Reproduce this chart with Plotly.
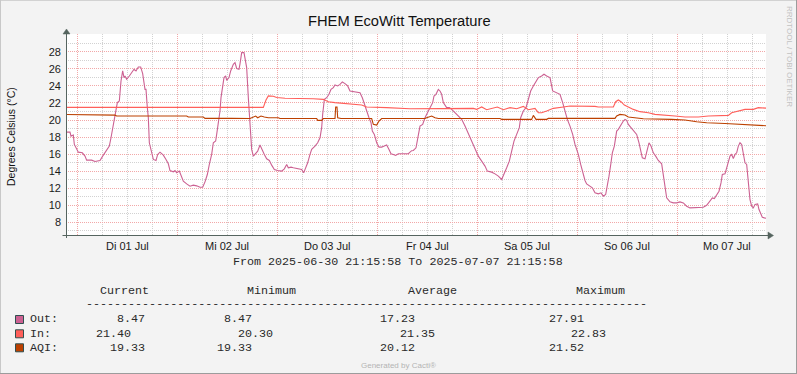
import plotly.graph_objects as go
import pandas as pd

# ---------------- data ----------------
START = "2025-06-30 21:15:58"
END = "2025-07-07 21:15:58"

# hours since START and degrees Celsius
out_hours = [0, 0.96, 1.2, 1.76, 2.0, 2.72, 2.96, 3.92, 4.56, 4.96,
             6.16, 6.96, 8.16, 8.8, 9.36, 9.76, 10.4, 10.8, 11.2, 11.52,
             12.0, 12.32, 12.8, 13.2, 13.6, 13.92, 14.16, 14.56, 15.2, 15.76,
             16.32, 16.8, 17.36, 17.92, 18.4, 18.96, 19.2, 19.52, 19.76, 20.0,
             20.56, 20.96, 21.6, 22.0, 22.56, 23.36, 24.0, 24.56, 24.96, 25.76,
             26.16, 26.56, 27.2, 27.76, 28.16, 28.96, 29.76, 30.56, 31.36, 32.16,
             32.8, 33.36, 33.92, 34.4, 34.96, 35.36, 35.92, 36.16, 36.56, 36.96,
             37.2, 37.52, 37.92, 38.32, 38.56, 39.12, 39.52, 40.16, 40.56, 40.96,
             41.52, 41.76, 42.16, 42.72, 43.12, 43.36, 43.76, 44.16, 44.56, 44.96,
             45.52, 46.0, 46.56, 47.12, 47.6, 48.16, 48.8, 49.36, 50.0, 50.8,
             51.76, 52.4, 52.96, 53.36, 54.0, 54.56, 55.36, 56.16, 56.56, 57.04,
             57.52, 58.0, 58.56, 58.96, 59.76, 60.4, 60.96, 61.36, 61.6, 62.0,
             62.56, 63.12, 63.6, 64.16, 64.56, 65.2, 65.76, 66.32, 66.96, 67.6,
             68.16, 68.96, 69.76, 70.56, 71.12, 71.6, 72.16, 72.72, 73.2, 73.52,
             74.0, 74.56, 75.12, 75.76, 76.4, 76.96, 77.52, 78.0, 78.56, 79.12,
             79.76, 80.56, 81.36, 82.16, 82.96, 83.36, 84.0, 84.32, 84.56, 84.96,
             85.6, 86.16, 86.96, 87.52, 88.0, 88.32, 88.8, 89.36, 89.76, 90.16,
             90.56, 91.36, 92.0, 92.56, 93.36, 94.16, 94.96, 95.76, 96.56, 97.36,
             98.16, 98.96, 99.76, 100.56, 101.12, 102.16, 102.96, 103.76, 104.56, 105.12,
             105.76, 106.4, 106.96, 107.52, 108.16, 108.8, 109.12, 109.76, 110.4, 110.96,
             111.52, 112.16, 112.8, 113.36, 114.16, 114.72, 115.36, 116.16, 116.8, 117.76,
             118.56, 119.2, 119.76, 120.32, 120.96, 121.6, 122.16, 122.96, 123.52, 124.16,
             124.56, 124.96, 125.76, 126.32, 126.96, 127.76, 128.4, 128.96, 129.52, 130.0,
             130.32, 130.8, 131.12, 131.6, 132.16, 132.56, 132.96, 133.36, 133.76, 134.16,
             134.56, 134.96, 135.6, 136.16, 136.96, 137.52, 138.0, 138.32, 138.96, 139.36,
             139.92, 140.4, 140.96, 141.52, 142.16, 142.96, 143.36, 143.76, 144.16, 144.96,
             145.76, 146.56, 147.36, 148.16, 148.96, 149.76, 150.96, 152.16, 152.96, 153.76,
             154.56, 155.12, 155.6, 156.16, 156.72, 157.2, 157.52, 158.16, 158.56, 158.96,
             159.36, 159.76, 160.16, 160.56, 160.96, 161.36, 161.76, 162.16, 162.56, 162.96,
             163.36, 163.76, 164.16, 164.56, 164.96, 165.36, 166.0, 166.32, 166.72, 167.12,
             167.6, 168.0]
out_values = [18.58, 18.58, 18.11, 18.23, 17.13, 16.55, 16.23, 16.15, 15.76, 15.29,
              15.29, 15.13, 15.25, 15.76, 16.15, 16.55, 16.94, 17.92, 19.1, 19.68,
              21.06, 22.04, 22.23, 24.58, 25.76, 24.98, 25.17, 24.78, 25.17, 25.57,
              25.96, 25.76, 26.23, 26.23, 25.45, 23.6, 23.6, 21.45, 20.27, 17.33,
              16.15, 15.37, 15.25, 15.96, 16.23, 15.88, 15.37, 14.86, 14.07, 13.92,
              14.07, 13.8, 14.0, 13.21, 12.82, 12.5, 12.23, 12.35, 12.27, 12.1,
              12.1, 12.74, 13.6, 14.78, 15.96, 17.33, 17.53, 18.31, 19.68, 21.06,
              22.63, 24.0, 24.98, 25.17, 24.66, 24.98, 25.76, 26.55, 26.74, 26.05,
              25.96, 26.6, 27.92, 27.91, 26.94, 26.15, 22.62, 19.49, 16.55, 15.76,
              16.04, 16.35, 17.06, 16.35, 15.96, 15.45, 15.25, 14.7, 14.19, 14.07,
              14.0, 14.27, 14.78, 14.39, 14.47, 14.39, 14.31, 14.31, 14.19, 13.8,
              14.39, 14.98, 15.96, 16.55, 16.94, 17.33, 17.92, 19.1, 20.66, 22.43,
              22.62, 23.02, 23.6, 23.8, 24.11, 24.0, 24.19, 24.47, 24.27, 24.0,
              23.41, 23.33, 23.21, 23.21, 22.62, 21.84, 21.06, 20.27, 19.68, 18.7,
              18.31, 17.33, 16.82, 16.82, 16.94, 17.06, 16.55, 16.04, 15.96, 15.84,
              16.04, 16.04, 16.04, 16.04, 16.4, 16.43, 16.74, 17.53, 18.31, 19.29,
              19.49, 20.27, 21.06, 21.53, 22.04, 22.82, 23.02, 23.6, 23.41, 23.02,
              22.04, 21.45, 21.45, 21.25, 20.86, 20.59, 20.08, 19.29, 18.39, 17.53,
              16.55, 15.76, 15.17, 14.59, 14.0, 13.88, 13.68, 13.41, 13.02, 13.6,
              14.39, 15.17, 16.35, 17.53, 18.31, 19.1, 20.27, 21.06, 21.45, 22.62,
              23.41, 24.0, 24.58, 24.98, 25.17, 25.37, 25.17, 24.98, 23.41, 23.21,
              23.02, 22.04, 21.06, 20.08, 19.29, 18.31, 17.13, 15.96, 14.78, 13.6,
              12.9, 12.5, 12.23, 12.04, 11.45, 11.33, 11.45, 11.06, 11.25, 12.43,
              13.41, 14.98, 16.15, 16.94, 18.7, 18.9, 19.29, 19.49, 19.88, 20.08,
              19.96, 19.49, 19.1, 18.7, 18.31, 17.33, 16.35, 15.57, 15.45, 16.35,
              17.33, 16.94, 16.15, 15.76, 15.25, 14.86, 13.6, 12.04, 10.86, 10.39,
              10.27, 10.27, 10.39, 10.27, 9.88, 9.68, 9.68, 9.68, 9.76, 9.99,
              10.47, 10.86, 10.78, 11.25, 11.64, 12.62, 13.6, 13.68, 14.39, 15.17,
              15.76, 15.96, 15.49, 15.96, 16.15, 16.94, 17.33, 17.13, 16.15, 14.98,
              14.78, 12.82, 10.66, 9.88, 9.68, 10.07, 10.15, 9.49, 8.9, 8.59,
              8.51, 8.47]

in_hours = [0, 47.36, 48.0, 48.56, 49.76, 50.56, 52.56, 57.76, 59.36, 61.76,
            62.96, 64.56, 66.96, 70.96, 72.16, 76.56, 76.96, 82.56, 97.76, 98.56,
            99.76, 100.96, 102.56, 103.52, 104.96, 106.56, 108.16, 109.76, 110.96, 112.56,
            113.36, 114.16, 115.36, 116.96, 119.36, 120.96, 126.96, 127.76, 131.36, 131.92,
            132.56, 133.2, 134.0, 134.96, 136.16, 137.76, 139.76, 141.36, 143.76, 146.16,
            148.56, 151.76, 154.16, 156.56, 158.96, 159.76, 161.36, 162.96, 164.96, 166.16,
            168.0]
in_values = [21.48, 21.48, 22.35, 22.83, 22.8, 22.65, 22.55, 22.55, 22.5, 22.43,
             22.15, 22.04, 21.92, 21.76, 21.53, 21.53, 21.45, 21.33, 21.37, 21.25,
             21.53, 21.21, 21.37, 21.53, 21.21, 21.45, 21.33, 21.6, 21.21, 21.37,
             20.86, 20.86, 21.06, 21.37, 21.53, 21.64, 21.6, 21.53, 21.53, 22.15,
             22.35, 22.15, 21.76, 21.53, 21.25, 20.98, 20.86, 20.66, 20.59, 20.47,
             20.35, 20.35, 20.47, 20.47, 20.55, 20.86, 21.06, 21.25, 21.25, 21.45,
             21.40]

aqi_hours = [0, 2.72, 3.2, 11.76, 12.16, 28.96, 29.36, 32.96, 33.36, 39.0,
             39.36, 39.7, 44.16, 44.96, 45.52, 46.0, 46.8, 47.6, 48.56, 50.96,
             51.36, 60.16, 60.4, 61.36, 61.76, 64.56, 64.72, 65.04, 65.2, 66.0,
             73.36, 73.76, 74.56, 75.12, 75.76, 86.16, 86.56, 87.76, 88.56, 89.36,
             104.16, 104.56, 111.76, 112.16, 112.8, 115.36, 115.76, 131.76, 132.16, 132.96,
             134.16, 134.96, 136.56, 138.56, 145.36, 148.56, 151.36, 153.76, 158.16, 162.16,
             164.56, 168.0]
aqi_values = [20.65, 20.65, 20.57, 20.57, 20.47, 20.47, 20.35, 20.35, 20.19, 20.19,
              20.27, 20.19, 20.17, 20.35, 20.47, 20.27, 20.47, 20.35, 20.27, 20.27,
              20.17, 20.17, 19.96, 19.96, 20.17, 20.17, 21.52, 21.52, 20.27, 20.17,
              20.17, 19.49, 19.41, 19.88, 20.17, 20.17, 20.27, 20.47, 20.27, 20.17,
              20.17, 20.08, 20.08, 20.55, 20.08, 20.08, 20.19, 20.19, 20.47, 20.66,
              20.59, 20.35, 20.27, 20.15, 20.08, 20.0, 19.8, 19.68, 19.6, 19.49,
              19.41, 19.33]

y_tick_values = [8, 10, 12, 14, 16, 18, 20, 22, 24, 26, 28]

day_labels = ["Di 01 Jul", "Mi 02 Jul", "Do 03 Jul", "Fr 04 Jul",
              "Sa 05 Jul", "So 06 Jul", "Mo 07 Jul"]
day_label_noons = ["2025-07-01 12:00", "2025-07-02 12:00", "2025-07-03 12:00",
                   "2025-07-04 12:00", "2025-07-05 12:00", "2025-07-06 12:00",
                   "2025-07-07 12:00"]

series_names = ["Out:", "In:", "AQI:"]
stat_current = ["8.47", "21.40", "19.33"]
stat_minimum = ["8.47", "20.30", "19.33"]
stat_average = ["17.23", "21.35", "20.12"]
stat_maximum = ["27.91", "22.83", "21.52"]
stat_headers = ["Current", "Minimum", "Average", "Maximum"]

# ---------------- styling ----------------
C_OUT = "#CC6192"
C_IN = "#FF5F5A"
C_AQI = "#BC4000"
AXIS_C = "#55645F"
RED_GRID = "#F2A8A8"
GRAY_GRID = "#D2D2D2"
BG = "#F3F3F3"
SANS = "Liberation Sans, Arial, sans-serif"
MONO = "Liberation Mono, Courier New, monospace"
TXT = "#2a2a2a"

W, H = 797, 374
L, R, T, B = 66, 766, 34, 235


def px(x):
    return (x - L) / (R - L)


def py(y):
    return (B - y) / (B - T)


start = pd.Timestamp(START)


def times(hours):
    return [start + pd.Timedelta(hours=h) for h in hours]


fig = go.Figure()
fig.add_trace(go.Scatter(x=times(out_hours), y=out_values, mode="lines",
                         line=dict(color=C_OUT, width=1.1), name="Out"))
fig.add_trace(go.Scatter(x=times(in_hours), y=in_values, mode="lines",
                         line=dict(color=C_IN, width=1.1), name="In"))
fig.add_trace(go.Scatter(x=times(aqi_hours), y=aqi_values, mode="lines",
                         line=dict(color=C_AQI, width=1.1), name="AQI"))

fig.update_xaxes(
    range=[START, END], showticklabels=False, showline=False, zeroline=False,
    tick0="2025-07-01 00:00", dtick=86400000, ticks="",
    showgrid=True, gridcolor=RED_GRID, griddash="1px,1px", gridwidth=1,
    minor=dict(dtick=21600000, tick0="2025-07-01 00:00", showgrid=True,
               gridcolor=GRAY_GRID, griddash="1px,1px", gridwidth=1, ticks=""),
)
fig.update_yaxes(
    range=[6.5, 30.1], tickmode="array", tickvals=y_tick_values, ticks="",
    showline=False, zeroline=False,
    showgrid=True, gridcolor=RED_GRID, griddash="1px,1px", gridwidth=1,
    tickfont=dict(family=SANS, size=11, color="#1a1a1a"), ticklabelstandoff=4,
    minor=dict(dtick=1, tick0=0, showgrid=True, gridcolor=GRAY_GRID,
               griddash="1px,1px", gridwidth=1),
)

ann = []


def add_text(text, x, y, size, family=SANS, color="#111", xanchor="left",
             yanchor="middle", angle=0):
    ann.append(dict(text=text, x=px(x), y=py(y), xref="paper", yref="paper",
                    showarrow=False, xanchor=xanchor, yanchor=yanchor,
                    textangle=angle, font=dict(family=family, size=size, color=color)))


add_text("FHEM EcoWitt Temperature", 399, 21, 14.7, xanchor="center")
add_text("Degrees Celsius (°C)", 11, 137, 10.5, xanchor="center", angle=-90)
add_text("RRDTOOL / TOBI OETIKER", 789, 56, 8, color="#C2C2C2",
         xanchor="center", angle=90)
for lab, t in zip(day_labels, day_label_noons):
    ann.append(dict(text=lab, x=t, y=py(246), xref="x", yref="paper",
                    showarrow=False, xanchor="center", yanchor="middle",
                    font=dict(family=SANS, size=11, color="#1a1a1a")))
add_text("From %s To %s" % (START, END), 398, 262, 11.7, family=MONO,
         color=TXT, xanchor="center")

dx = -1.5  # glyph side-bearing correction for left-anchored monospace text
header_x = [99.5, 246, 407.5, 575]
for h, x in zip(stat_headers, header_x):
    add_text(h, x + dx, 290.5, 11.7, family=MONO, color=TXT)
add_text("-" * 80, 86.5 + dx - 1, 303.5, 11.7, family=MONO, color=TXT)

row_y = [319.3, 333.5, 347.5]
cur_x = [116, 95, 109.5]
min_x = [223, 237, 216]
avg_x = [379, 399.5, 379]
max_x = [548, 570, 548]
for i, name in enumerate(series_names):
    add_text(name, 29.5 + dx, row_y[i], 11.7, family=MONO, color=TXT)
    add_text(stat_current[i], cur_x[i] + dx, row_y[i], 11.7, family=MONO, color=TXT)
    add_text(stat_minimum[i], min_x[i] + dx, row_y[i], 11.7, family=MONO, color=TXT)
    add_text(stat_average[i], avg_x[i] + dx, row_y[i], 11.7, family=MONO, color=TXT)
    add_text(stat_maximum[i], max_x[i] + dx, row_y[i], 11.7, family=MONO, color=TXT)
add_text("Generated by Cacti®", 398, 365, 8, color="#B4B4B4", xanchor="center")

shapes = []
# legend colour boxes
for c, yc in zip([C_OUT, C_IN, C_AQI], [319.5, 333.8, 347.8]):
    shapes.append(dict(type="rect", xref="paper", yref="paper",
                       x0=px(15.5), x1=px(23.5), y0=py(yc + 4), y1=py(yc - 4),
                       fillcolor=c, line=dict(color="#2F4F4F", width=1)))
# axes with arrows
shapes.append(dict(type="line", xref="paper", yref="paper", x0=px(62.5), x1=px(769),
                   y0=py(235.5), y1=py(235.5), line=dict(color=AXIS_C, width=1)))
shapes.append(dict(type="line", xref="paper", yref="paper", x0=px(66.5), x1=px(66.5),
                   y0=py(238), y1=py(33), line=dict(color=AXIS_C, width=1)))
shapes.append(dict(type="path", xref="paper", yref="paper",
                   path="M %f %f L %f %f L %f %f Z" % (px(768), py(232), px(773.5), py(235.5),
                                                        px(768), py(239)),
                   fillcolor=AXIS_C, line=dict(color=AXIS_C, width=0.5)))
shapes.append(dict(type="path", xref="paper", yref="paper",
                   path="M %f %f L %f %f L %f %f Z" % (px(63), py(34), px(66.5), py(29),
                                                        px(70), py(34)),
                   fillcolor=AXIS_C, line=dict(color=AXIS_C, width=0.5)))
# outer frame
shapes.append(dict(type="line", xref="paper", yref="paper", x0=px(0), x1=px(797),
                   y0=py(0.5), y1=py(0.5), line=dict(color="#D2D2D2", width=1)))
shapes.append(dict(type="line", xref="paper", yref="paper", x0=px(0.5), x1=px(0.5),
                   y0=py(0), y1=py(374), line=dict(color="#C8C8C8", width=1)))
shapes.append(dict(type="line", xref="paper", yref="paper", x0=px(796.5), x1=px(796.5),
                   y0=py(0), y1=py(374), line=dict(color="#9C9C9C", width=1)))
shapes.append(dict(type="line", xref="paper", yref="paper", x0=px(0), x1=px(797),
                   y0=py(373.5), y1=py(373.5), line=dict(color="#9C9C9C", width=1)))

fig.update_layout(
    width=W, height=H, autosize=False,
    margin=dict(l=L, r=W - R, t=T, b=H - B, pad=0),
    paper_bgcolor=BG, plot_bgcolor="#FFFFFF",
    showlegend=False, annotations=ann, shapes=shapes,
)

fig.write_html(
    "out.html",
    config={"displayModeBar": False},
    post_script="document.body.style.margin='0';document.body.style.padding='0';"
                "document.body.style.overflow='hidden';",
)
